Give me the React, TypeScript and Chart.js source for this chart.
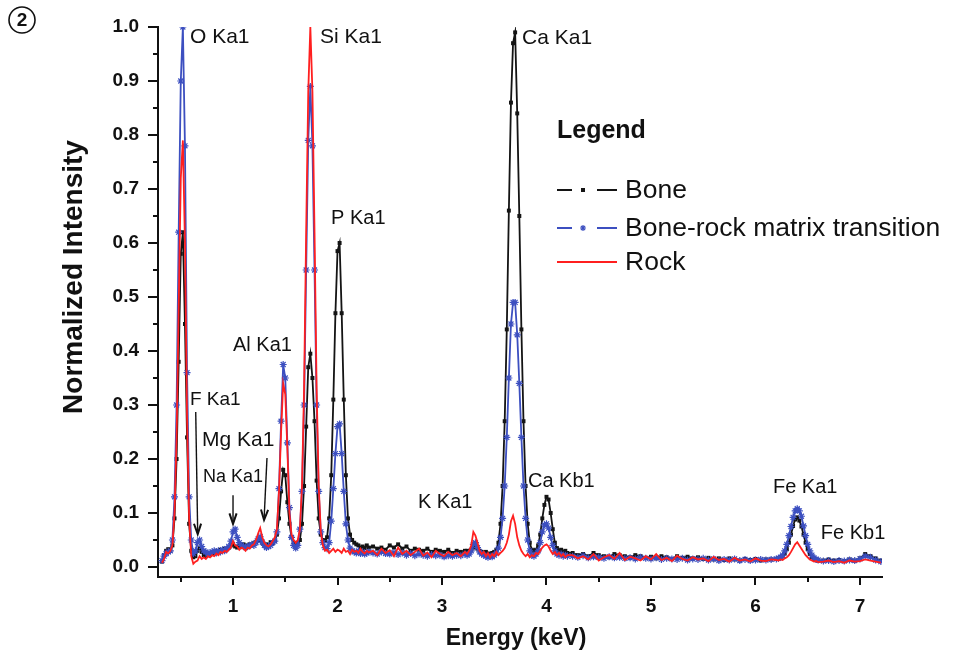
import React, { useEffect, useRef } from "react";
import { Chart, registerables } from "chart.js";

Chart.register(...registerables);

// ---------------- data ----------------
const ENERGY_KEV = [
  0.32, 0.34, 0.36, 0.38, 0.40, 0.42, 0.44, 0.46, 0.48, 0.50,
  0.52, 0.54, 0.56, 0.58, 0.60, 0.62, 0.64, 0.66, 0.68, 0.70,
  0.72, 0.74, 0.76, 0.78, 0.80, 0.82, 0.84, 0.86, 0.88, 0.90,
  0.92, 0.94, 0.96, 0.98, 1.00, 1.02, 1.04, 1.06, 1.08, 1.10,
  1.12, 1.14, 1.16, 1.18, 1.20, 1.22, 1.24, 1.26, 1.28, 1.30,
  1.32, 1.34, 1.36, 1.38, 1.40, 1.42, 1.44, 1.46, 1.48, 1.50,
  1.52, 1.54, 1.56, 1.58, 1.60, 1.62, 1.64, 1.66, 1.68, 1.70,
  1.72, 1.74, 1.76, 1.78, 1.80, 1.82, 1.84, 1.86, 1.88, 1.90,
  1.92, 1.94, 1.96, 1.98, 2.00, 2.02, 2.04, 2.06, 2.08, 2.10,
  2.12, 2.14, 2.16, 2.18, 2.20, 2.22, 2.24, 2.26, 2.28, 2.30,
  2.34, 2.38, 2.42, 2.46, 2.50, 2.54, 2.58, 2.62, 2.66, 2.70,
  2.74, 2.78, 2.82, 2.86, 2.90, 2.94, 2.98, 3.02, 3.06, 3.10,
  3.14, 3.18, 3.22,
  3.24, 3.26, 3.28, 3.30, 3.32, 3.34, 3.36, 3.38, 3.40, 3.42,
  3.44, 3.46, 3.48, 3.50, 3.52, 3.54, 3.56, 3.58, 3.60, 3.62,
  3.64, 3.66, 3.68, 3.70, 3.72, 3.74, 3.76, 3.78, 3.80, 3.82,
  3.84, 3.86, 3.88, 3.90, 3.92, 3.94, 3.96, 3.98, 4.00, 4.02,
  4.04, 4.06, 4.08, 4.10, 4.12, 4.14, 4.16, 4.18, 4.20,
  4.25, 4.30, 4.35, 4.40, 4.45, 4.50, 4.55, 4.60, 4.65, 4.70,
  4.75, 4.80, 4.85, 4.90, 4.95, 5.00, 5.05, 5.10, 5.15, 5.20,
  5.25, 5.30, 5.35, 5.40, 5.45, 5.50, 5.55, 5.60, 5.65, 5.70,
  5.75, 5.80, 5.85, 5.90, 5.95, 6.00, 6.05, 6.10, 6.15, 6.20,
  6.22, 6.24, 6.26, 6.28, 6.30, 6.32, 6.34, 6.36, 6.38, 6.40,
  6.42, 6.44, 6.46, 6.48, 6.50, 6.52, 6.54, 6.56, 6.58, 6.60,
  6.65, 6.70, 6.75, 6.80, 6.85, 6.90, 6.95, 7.00, 7.05, 7.10,
  7.15, 7.20,
];

const BONE = [
  0.010, 0.022, 0.030, 0.033, 0.030, 0.040, 0.090, 0.200, 0.380, 0.580,
  0.620, 0.450, 0.240, 0.080, 0.030, 0.018, 0.020, 0.030, 0.036, 0.028,
  0.022, 0.020, 0.024, 0.022, 0.026, 0.025, 0.030, 0.028, 0.032, 0.030,
  0.034, 0.033, 0.036, 0.040, 0.042, 0.038, 0.036, 0.040, 0.038, 0.042,
  0.040, 0.038, 0.042, 0.040, 0.044, 0.046, 0.050, 0.052, 0.045, 0.040,
  0.042, 0.040, 0.046, 0.044, 0.048, 0.060, 0.090, 0.140, 0.180, 0.170,
  0.120, 0.080, 0.055, 0.045, 0.042, 0.045, 0.050, 0.080, 0.150, 0.260,
  0.370, 0.395, 0.350, 0.270, 0.160, 0.090, 0.060, 0.050, 0.048, 0.055,
  0.090, 0.170, 0.310, 0.470, 0.585, 0.600, 0.470, 0.310, 0.170, 0.090,
  0.060, 0.050, 0.045, 0.042, 0.040, 0.036, 0.038, 0.035, 0.040, 0.036,
  0.038, 0.034, 0.036, 0.032, 0.040, 0.036, 0.042, 0.034, 0.038, 0.030,
  0.034, 0.032, 0.030, 0.034, 0.028, 0.032, 0.030, 0.028, 0.032, 0.026,
  0.030, 0.028, 0.030,
  0.030, 0.028, 0.032, 0.036, 0.038, 0.034, 0.030, 0.028, 0.026, 0.028,
  0.025, 0.024, 0.026, 0.028, 0.032, 0.045, 0.080, 0.150, 0.270, 0.440,
  0.660, 0.860, 0.970, 0.990, 0.840, 0.650, 0.440, 0.270, 0.150, 0.080,
  0.045, 0.032, 0.030, 0.032, 0.040, 0.060, 0.090, 0.115, 0.130, 0.125,
  0.100, 0.070, 0.045, 0.035, 0.030, 0.032, 0.028, 0.030, 0.026,
  0.026, 0.022, 0.024, 0.020, 0.026, 0.022, 0.020, 0.018, 0.024, 0.022,
  0.020, 0.018, 0.022, 0.020, 0.017, 0.019, 0.016, 0.020, 0.018, 0.015,
  0.020, 0.017, 0.019, 0.016, 0.018, 0.015, 0.017, 0.014, 0.016, 0.013,
  0.016, 0.014, 0.012, 0.015, 0.013, 0.015, 0.012, 0.014, 0.014, 0.015,
  0.016, 0.018, 0.020, 0.025, 0.033, 0.045, 0.060, 0.076, 0.088, 0.092,
  0.086, 0.075, 0.060, 0.045, 0.033, 0.024, 0.018, 0.015, 0.014, 0.012,
  0.012, 0.014, 0.012, 0.013, 0.011, 0.014, 0.012, 0.016, 0.024, 0.020,
  0.016, 0.012,
];

const TRANSITION = [
  0.012, 0.020, 0.025, 0.028, 0.030, 0.050, 0.130, 0.300, 0.620, 0.900,
  1.000, 0.780, 0.360, 0.130, 0.050, 0.025, 0.030, 0.045, 0.050, 0.038,
  0.030, 0.028, 0.024, 0.026, 0.028, 0.030, 0.026, 0.030, 0.028, 0.032,
  0.030, 0.034, 0.038, 0.048, 0.065, 0.070, 0.055, 0.045, 0.040, 0.038,
  0.036, 0.038, 0.040, 0.042, 0.040, 0.045, 0.052, 0.056, 0.046, 0.040,
  0.036, 0.038, 0.040, 0.045, 0.048, 0.065, 0.145, 0.270, 0.375, 0.350,
  0.230, 0.110, 0.055, 0.040, 0.035, 0.040, 0.070, 0.140, 0.300, 0.550,
  0.790, 0.890, 0.780, 0.550, 0.300, 0.140, 0.065, 0.045, 0.036, 0.034,
  0.045, 0.085, 0.145, 0.210, 0.260, 0.265, 0.210, 0.140, 0.080, 0.050,
  0.035, 0.030, 0.028, 0.026, 0.030, 0.025, 0.028, 0.024, 0.026, 0.028,
  0.026, 0.024, 0.028, 0.025, 0.024, 0.027, 0.023, 0.026, 0.022, 0.025,
  0.021, 0.024, 0.022, 0.020, 0.023, 0.021, 0.022, 0.019, 0.021, 0.020,
  0.022, 0.021, 0.024,
  0.022, 0.024, 0.030, 0.042, 0.045, 0.036, 0.028, 0.024, 0.022, 0.020,
  0.018, 0.020, 0.019, 0.022, 0.026, 0.035, 0.055, 0.090, 0.150, 0.240,
  0.350, 0.450, 0.490, 0.490, 0.430, 0.340, 0.240, 0.150, 0.090, 0.050,
  0.030, 0.022, 0.020, 0.024, 0.030, 0.045, 0.065, 0.078, 0.080, 0.072,
  0.055, 0.040, 0.030, 0.024, 0.022, 0.024, 0.020, 0.022, 0.020,
  0.020, 0.018, 0.021, 0.017, 0.019, 0.018, 0.016, 0.019, 0.017, 0.018,
  0.016, 0.017, 0.015, 0.018, 0.016, 0.015, 0.017, 0.014, 0.016, 0.015,
  0.014, 0.016, 0.013, 0.015, 0.014, 0.016, 0.013, 0.015, 0.012, 0.014,
  0.013, 0.015, 0.012, 0.014, 0.012, 0.013, 0.014, 0.013, 0.014, 0.015,
  0.016, 0.018, 0.022, 0.030, 0.042, 0.058, 0.075, 0.092, 0.104, 0.108,
  0.104, 0.094, 0.076, 0.058, 0.042, 0.030, 0.022, 0.017, 0.014, 0.013,
  0.011, 0.012, 0.010, 0.012, 0.011, 0.013, 0.012, 0.015, 0.020, 0.018,
  0.013, 0.010,
];

const ROCK = [
  0.008, 0.015, 0.028, 0.025, 0.030, 0.040, 0.100, 0.240, 0.480, 0.720,
  0.790, 0.600, 0.280, 0.090, 0.020, 0.006, 0.010, 0.012, 0.020, 0.015,
  0.018, 0.015, 0.020, 0.018, 0.022, 0.020, 0.025, 0.022, 0.028, 0.026,
  0.030, 0.028, 0.032, 0.036, 0.048, 0.040, 0.038, 0.032, 0.036, 0.034,
  0.030, 0.036, 0.034, 0.040, 0.042, 0.050, 0.062, 0.072, 0.055, 0.045,
  0.040, 0.038, 0.042, 0.048, 0.055, 0.070, 0.140, 0.250, 0.340, 0.320,
  0.220, 0.100, 0.060, 0.050, 0.045, 0.050, 0.070, 0.150, 0.330, 0.620,
  0.880, 1.000, 0.880, 0.620, 0.330, 0.150, 0.065, 0.040, 0.030, 0.032,
  0.026, 0.030, 0.034, 0.028, 0.032, 0.030, 0.026, 0.034, 0.028, 0.030,
  0.024, 0.032, 0.028, 0.030, 0.026, 0.034, 0.028, 0.025, 0.030, 0.027,
  0.030, 0.022, 0.034, 0.026, 0.031, 0.020, 0.036, 0.024, 0.030, 0.022,
  0.028, 0.034, 0.021, 0.027, 0.018, 0.030, 0.024, 0.020, 0.028, 0.022,
  0.026, 0.020, 0.028,
  0.024, 0.030, 0.040, 0.065, 0.058, 0.045, 0.030, 0.024, 0.028, 0.020,
  0.026, 0.018, 0.024, 0.020, 0.028, 0.022, 0.026, 0.030, 0.035, 0.045,
  0.060, 0.085, 0.095, 0.080, 0.055, 0.040, 0.030, 0.024, 0.020, 0.024,
  0.018, 0.022, 0.020, 0.026, 0.024, 0.030, 0.036, 0.040, 0.042, 0.038,
  0.030, 0.024, 0.028, 0.022, 0.026, 0.020, 0.024, 0.018, 0.022,
  0.022, 0.016, 0.020, 0.014, 0.024, 0.012, 0.018, 0.022, 0.015, 0.026,
  0.013, 0.019, 0.016, 0.012, 0.020, 0.014, 0.024, 0.013, 0.017, 0.011,
  0.021, 0.015, 0.012, 0.018, 0.014, 0.016, 0.011, 0.019, 0.013, 0.015,
  0.010, 0.017, 0.012, 0.014, 0.010, 0.016, 0.012, 0.011, 0.014, 0.013,
  0.012, 0.014, 0.013, 0.016, 0.018, 0.022, 0.028, 0.035, 0.042, 0.046,
  0.040, 0.034, 0.028, 0.022, 0.018, 0.014, 0.012, 0.010, 0.011, 0.009,
  0.010, 0.012, 0.009, 0.011, 0.008, 0.012, 0.010, 0.011, 0.014, 0.012,
  0.010, 0.008,
];

const SERIES_NAMES = ["Bone", "Bone-rock matrix transition", "Rock"];
const X_TICK_VALUES = [1, 2, 3, 4, 5, 6, 7];
const X_MINOR_VALUES = [0.5, 1.5, 2.5, 3.5, 4.5, 5.5, 6.5];
const Y_TICK_VALUES = [0, 0.1, 0.2, 0.3, 0.4, 0.5, 0.6, 0.7, 0.8, 0.9, 1.0];
const Y_MINOR_VALUES = [0.05, 0.15, 0.25, 0.35, 0.45, 0.55, 0.65, 0.75, 0.85, 0.95];
const X_TITLE = "Energy (keV)";
const Y_TITLE = "Normalized Intensity";
const LEGEND_TITLE = "Legend";
const PANEL_TAG = "2";

const PEAK_NAMES = ["O Ka1", "Si Ka1", "Ca Ka1", "P Ka1", "Al Ka1", "F Ka1", "Mg Ka1", "Na Ka1", "K Ka1", "Ca Kb1", "Fe Ka1", "Fe Kb1"];

// ---------------- styling / layout ----------------
const FONT = "'Liberation Sans', Arial, Helvetica, sans-serif";
const INK = "#111111";
const COLORS = ["#141414", "#3c4fc0", "#ff1f1f"];

// label anchors (keV, intensity) -> left edge, vertical middle, font size
const LABEL_POS: [number, number, number][] = [
  [0.588, 0.981, 21], [1.833, 0.981, 21], [3.766, 0.979, 21], [1.938, 0.646, 20],
  [1.0, 0.411, 20], [0.588, 0.309, 19], [0.703, 0.235, 21], [0.713, 0.167, 18],
  [2.77, 0.119, 20], [3.823, 0.159, 20], [6.167, 0.148, 20], [6.626, 0.063, 20],
];
const ARROWS: [number, number, number, number][] = [
  [0.643, 0.287, 0.662, 0.061],
  [1.0, 0.133, 1.0, 0.080],
  [1.325, 0.202, 1.297, 0.087],
];

function drawStar(ctx: CanvasRenderingContext2D, x: number, y: number, r: number) {
  ctx.beginPath();
  ctx.moveTo(x - r, y); ctx.lineTo(x + r, y);
  ctx.moveTo(x, y - r); ctx.lineTo(x, y + r);
  const d = r * 0.707;
  ctx.moveTo(x - d, y - d); ctx.lineTo(x + d, y + d);
  ctx.moveTo(x - d, y + d); ctx.lineTo(x + d, y - d);
  ctx.stroke();
}

const overlayPlugin = {
  id: "overlay",
  afterDraw(chart: any) {
    const { ctx, chartArea } = chart;
    const xs = chart.scales.x;
    const ys = chart.scales.y;
    ctx.save();
    ctx.strokeStyle = INK;
    ctx.fillStyle = INK;
    ctx.lineWidth = 2;
    ctx.lineCap = "butt";
    // tick marks
    const bottom = chartArea.bottom;
    const left = chartArea.left;
    ctx.beginPath();
    for (const v of X_TICK_VALUES) {
      const px = Math.round(xs.getPixelForValue(v));
      ctx.moveTo(px, bottom); ctx.lineTo(px, bottom + 8);
    }
    for (const v of X_MINOR_VALUES) {
      const px = Math.round(xs.getPixelForValue(v));
      ctx.moveTo(px, bottom); ctx.lineTo(px, bottom + 5);
    }
    for (const v of Y_TICK_VALUES) {
      const py = Math.round(ys.getPixelForValue(v));
      ctx.moveTo(left, py); ctx.lineTo(left - 10, py);
    }
    for (const v of Y_MINOR_VALUES) {
      const py = Math.round(ys.getPixelForValue(v));
      ctx.moveTo(left, py); ctx.lineTo(left - 5, py);
    }
    ctx.stroke();

    // peak labels
    ctx.textBaseline = "middle";
    ctx.textAlign = "left";
    PEAK_NAMES.forEach((name, i) => {
      const [kx, ky, size] = LABEL_POS[i];
      ctx.font = `${size}px ${FONT}`;
      ctx.fillText(name, xs.getPixelForValue(kx), ys.getPixelForValue(ky));
    });

    // arrows
    ctx.lineWidth = 1.4;
    for (const [ax1, ay1, ax2, ay2] of ARROWS) {
      const x1 = xs.getPixelForValue(ax1), y1 = ys.getPixelForValue(ay1);
      const x2 = xs.getPixelForValue(ax2), y2 = ys.getPixelForValue(ay2);
      ctx.beginPath(); ctx.moveTo(x1, y1); ctx.lineTo(x2, y2); ctx.stroke();
      const ang = Math.atan2(y2 - y1, x2 - x1);
      const L = 11, sp = 0.33;
      ctx.lineWidth = 2;
      ctx.beginPath();
      ctx.moveTo(x2 - L * Math.cos(ang - sp), y2 - L * Math.sin(ang - sp));
      ctx.lineTo(x2, y2);
      ctx.lineTo(x2 - L * Math.cos(ang + sp), y2 - L * Math.sin(ang + sp));
      ctx.stroke();
      ctx.lineWidth = 1.4;
    }

    // axis titles
    ctx.font = `bold 23px ${FONT}`;
    ctx.textAlign = "center";
    ctx.fillText(X_TITLE, 516, 639);
    ctx.save();
    ctx.translate(74, 277);
    ctx.rotate(-Math.PI / 2);
    ctx.font = `bold 28px ${FONT}`;
    ctx.fillText(Y_TITLE, 0, 0);
    ctx.restore();

    // legend
    ctx.textAlign = "left";
    ctx.font = `bold 25px ${FONT}`;
    ctx.fillText(LEGEND_TITLE, 557, 131);
    const rows = [190, 228, 262];
    ctx.font = `26.5px ${FONT}`;
    SERIES_NAMES.forEach((name, i) => {
      const y = rows[i];
      ctx.strokeStyle = COLORS[i];
      ctx.fillStyle = COLORS[i];
      ctx.lineWidth = 2;
      ctx.beginPath();
      if (i === 2) {
        ctx.moveTo(557, y); ctx.lineTo(617, y);
      } else {
        ctx.moveTo(557, y); ctx.lineTo(572, y);
        ctx.moveTo(597, y); ctx.lineTo(617, y);
      }
      ctx.stroke();
      if (i === 0) ctx.fillRect(581, y - 2, 4, 4);
      if (i === 1) { ctx.lineWidth = 1.2; drawStar(ctx, 583, y, 3); }
      ctx.fillStyle = INK;
      ctx.fillText(name, 625, y + 1);
    });

    // panel tag
    ctx.strokeStyle = INK;
    ctx.lineWidth = 1.6;
    ctx.beginPath();
    ctx.arc(22, 20, 13, 0, Math.PI * 2);
    ctx.stroke();
    ctx.fillStyle = INK;
    ctx.textAlign = "center";
    ctx.font = `bold 19px ${FONT}`;
    ctx.fillText(PANEL_TAG, 22, 21);
    ctx.restore();
  },
};

export default function App() {
  const canvasRef = useRef<HTMLCanvasElement | null>(null);

  useEffect(() => {
    if (!canvasRef.current) return;
    const seriesValues = [BONE, TRANSITION, ROCK];
    const chart = new Chart(canvasRef.current, {
      type: "line",
      data: {
        datasets: SERIES_NAMES.map((name, i) => ({
          label: name,
          data: ENERGY_KEV.map((e, k) => ({ x: e, y: seriesValues[i][k] })),
          borderColor: COLORS[i],
          backgroundColor: COLORS[i],
          borderWidth: 1.8,
          pointStyle: i === 0 ? "rect" : i === 1 ? "star" : "circle",
          pointRadius: i === 0 ? 2.8 : i === 1 ? 3.5 : 0,
          pointBorderWidth: i === 1 ? 1.2 : 0,
          pointBorderColor: COLORS[i],
          pointBackgroundColor: COLORS[i],
          tension: 0,
          fill: false,
          order: 2 - i,
        })),
      },
      plugins: [overlayPlugin],
      options: {
        responsive: false,
        animation: false,
        events: [],
        layout: { padding: { left: 0, top: 27, right: 72, bottom: 0 } },
        plugins: { legend: { display: false }, tooltip: { enabled: false }, title: { display: false } },
        scales: {
          x: {
            type: "linear",
            min: 0.282,
            max: 7.211,
            grid: { display: false, drawTicks: true, tickLength: 8 },
            border: { display: true, color: INK, width: 2 },
            afterBuildTicks: (scale: any) => {
              scale.ticks = X_TICK_VALUES.map((v) => ({ value: v }));
            },
            afterFit: (scale: any) => { scale.height = 79; },
            ticks: {
              padding: 10,
              color: INK,
              maxRotation: 0,
              autoSkip: false,
              font: { family: FONT, size: 19, weight: "bold" },
              callback: (v: any) => String(v),
            },
          },
          y: {
            type: "linear",
            min: -0.0185,
            max: 1.0,
            grid: { display: false, drawTicks: true, tickLength: 10 },
            border: { display: true, color: INK, width: 2 },
            afterBuildTicks: (scale: any) => {
              scale.ticks = Y_TICK_VALUES.map((v) => ({ value: v }));
            },
            afterFit: (scale: any) => { scale.width = 158; },
            ticks: {
              padding: 9,
              color: INK,
              autoSkip: false,
              font: { family: FONT, size: 19, weight: "bold" },
              callback: (v: any) => Number(v).toFixed(1),
            },
          },
        },
      },
    });
    return () => chart.destroy();
  }, []);

  return (
    <div style={{ position: "absolute", left: 0, top: 0, width: 954, height: 656, background: "#ffffff" }}>
      <canvas ref={canvasRef} width={954} height={656} style={{ display: "block" }} />
    </div>
  );
}
